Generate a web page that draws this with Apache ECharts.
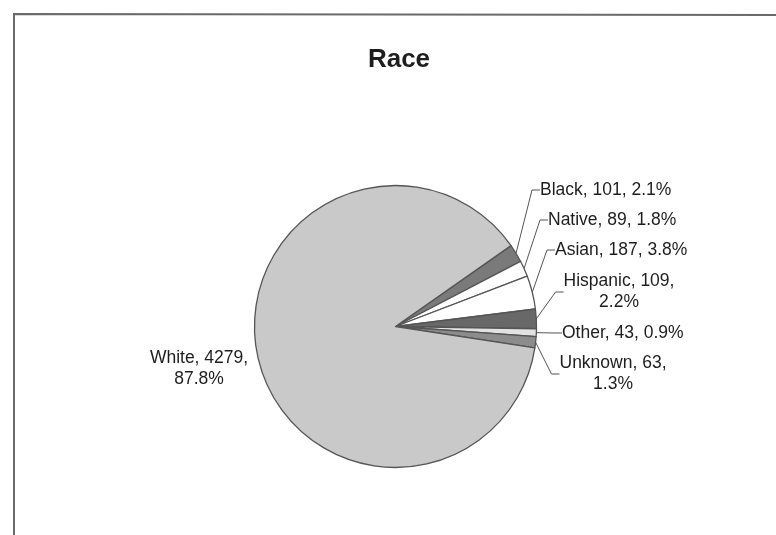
<!DOCTYPE html>
<html>
<head>
<meta charset="utf-8">
<title>Race</title>
<script src="https://cdn.jsdelivr.net/npm/echarts@6/dist/echarts.min.js"></script>
<style>
  html, body { margin: 0; padding: 0; background: #ffffff; }
  #chart { width: 776px; height: 535px; }
</style>
</head>
<body>
<div id="chart"></div>
<script>
// Race breakdown: counts per group, with the share printed next to each slice
const categories = ['Black', 'Native', 'Asian', 'Hispanic', 'Other', 'Unknown', 'White'];
const counts = [101, 89, 187, 109, 43, 63, 4279];
const shares = ['2.1%', '1.8%', '3.8%', '2.2%', '0.9%', '1.3%', '87.8%'];

// Grayscale fills for each slice
const sliceColors = ['#7a7a7a', '#ffffff', '#ffffff', '#686868', '#e2e2e2', '#8c8c8c', '#c9c9c9'];

// Where each label sits, and how its lines break
const labelPlacement = [
  { x: 540, y: 190, align: 'left' },
  { x: 548, y: 220, align: 'left' },
  { x: 555, y: 250, align: 'left' },
  { x: 619, y: 292, align: 'center' },
  { x: 562, y: 333, align: 'left' },
  { x: 613, y: 374, align: 'center' },
  { x: 199, y: 369, align: 'center' }
];
const twoLine = [false, false, false, true, false, true, true];

const chart = echarts.init(document.getElementById('chart'), null, { renderer: 'canvas' });

const seriesData = categories.map((name, i) => ({
  name: name,
  value: counts[i],
  itemStyle: { color: sliceColors[i] },
  labelLine: { show: name !== 'White' }
}));

chart.setOption({
  backgroundColor: '#ffffff',
  animation: false,
  title: {
    text: 'Race',
    left: 394,
    top: 42,
    textAlign: 'center',
    textStyle: {
      fontFamily: 'Liberation Sans, Arial, sans-serif',
      fontSize: 26,
      fontWeight: 'bold',
      color: '#1e1e1e'
    }
  },
  graphic: [
    {
      type: 'polyline',
      shape: { points: [[14, 535], [14, 14], [776, 15]] },
      style: { stroke: '#6a6a6a', lineWidth: 2, fill: null },
      silent: true
    }
  ],
  series: [
    {
      type: 'pie',
      center: [395.5, 326.5],
      radius: 141,
      startAngle: 35,
      clockwise: true,
      avoidLabelOverlap: false,
      data: seriesData,
      itemStyle: {
        borderColor: '#555555',
        borderWidth: 1.3
      },
      label: {
        show: true,
        position: 'outside',
        fontFamily: 'Liberation Sans, Arial, sans-serif',
        fontSize: 17.5,
        lineHeight: 21,
        color: '#1e1e1e',
        formatter: function (p) {
          const i = p.dataIndex;
          const sep = twoLine[i] ? ',\n' : ', ';
          return p.name + ', ' + counts[i] + sep + shares[i];
        }
      },
      labelLine: {
        show: true,
        length: 10,
        length2: 8,
        lineStyle: { color: '#555555', width: 1 }
      },
      labelLayout: function (params) {
        const pl = labelPlacement[params.dataIndex];
        return {
          x: pl.x,
          y: pl.y,
          align: pl.align,
          verticalAlign: 'middle'
        };
      }
    }
  ]
});
</script>
</body>
</html>
